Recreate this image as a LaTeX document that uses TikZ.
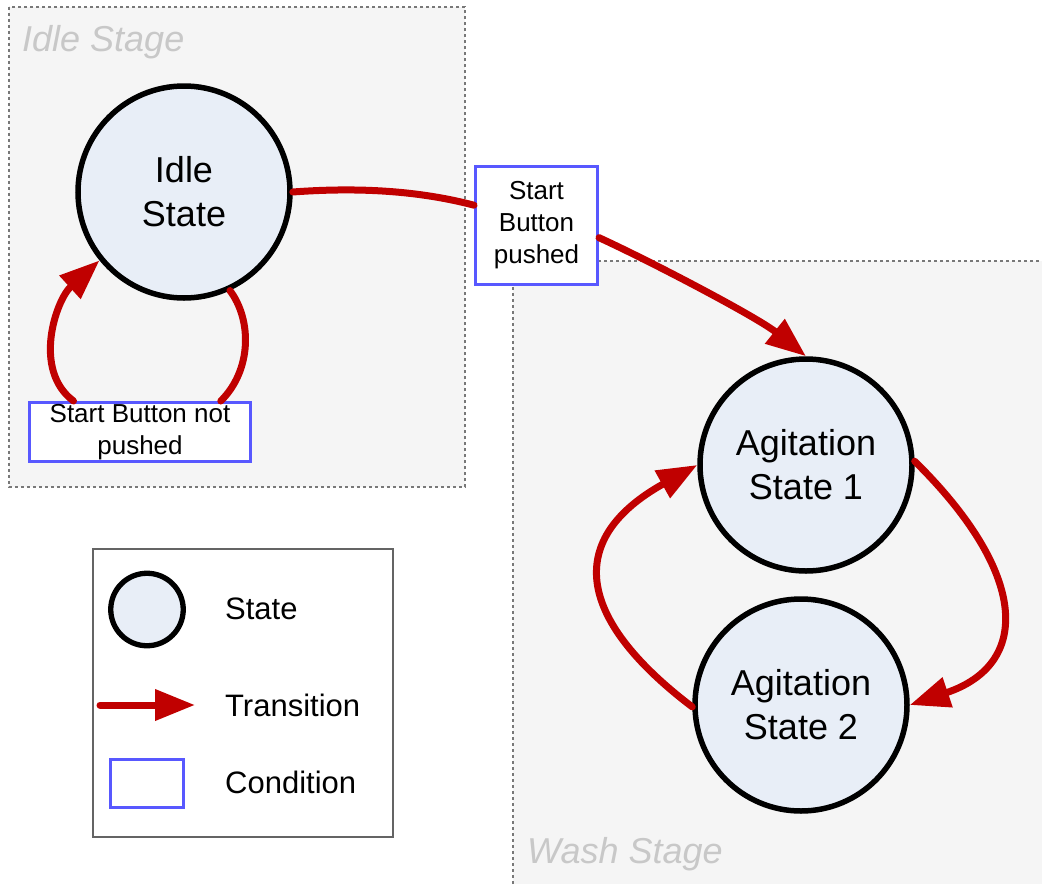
\documentclass[tikz,border=0pt]{standalone}
\usepackage{fontspec}
\setmainfont{Liberation Sans}
\usetikzlibrary{arrows.meta}
\definecolor{stagefill}{RGB}{245,245,245}
\definecolor{stageline}{RGB}{120,120,120}
\definecolor{statefill}{RGB}{232,238,247}
\definecolor{transred}{RGB}{192,0,0}
\definecolor{condblue}{RGB}{88,88,255}
\definecolor{labelgray}{RGB}{200,200,200}
\definecolor{legendline}{RGB}{100,100,100}
\begin{document}
\begin{tikzpicture}[x=1pt,y=-1pt,
  stagedash/.style={draw=stageline, line width=1.3pt, dash pattern=on 3pt off 3pt},
  stagelabel/.style={text=labelgray, inner sep=0pt, anchor=base west, font=\fontsize{36}{43}\selectfont\itshape},
  state/.style={circle, draw=black, line width=5.5pt, fill=statefill, minimum size=212pt, inner sep=0pt, align=center, font=\fontsize{36}{44}\selectfont},
  cond/.style={rectangle, draw=condblue, line width=3pt, fill=white, inner sep=0pt, align=center, font=\fontsize{26}{32}\selectfont},
  trans/.style={draw=transred, line width=7pt, line cap=round},
  arrowend/.style={-{Triangle[length=40pt,width=30pt]}},
  legendtext/.style={anchor=west, inner sep=0pt, font=\fontsize{31}{37}\selectfont}
]
\useasboundingbox (0,0) rectangle (1042,884);
% stages
\fill[stagefill] (9,7) rectangle (465,487);
\draw[stagedash] (9,7) rectangle (465,487);
\fill[stagefill] (513,261) rectangle (1042,884);
\draw[stagedash] (513,884) -- (513,261) -- (1042,261);
\node[stagelabel] (idlestagelabel) at (22,51) {Idle Stage};
\node[stagelabel] (washstagelabel) at (527,863) {Wash Stage};
% states
\node[state] (idle) at (184,192) {Idle\\State};
\node[state] (ag1) at (806,465) {Agitation\\State 1};
\node[state] (ag2) at (801,705) {Agitation\\State 2};
% conditions
\node[cond, minimum width=122pt, minimum height=118pt] (cond1) at (536.5,225.5) {Start\\Button\\pushed};
\node[cond, minimum width=221pt, minimum height=59pt] (cond2) at (140,432) {Start Button not\\pushed};
% transitions
\draw[trans] (idle.east) .. controls (360,187) and (420,191) .. (cond1.162);
\draw[trans,arrowend] (cond1.-11) .. controls (650,261) and (757,317) .. (ag1.north);
\draw[trans] (idle.-65) .. controls (252,320) and (252,370) .. (cond2.21);
\draw[trans,arrowend] (cond2.155) .. controls (32,370) and (56,300) .. (idle.-141);
\draw[trans,arrowend] (ag1.2) .. controls (1028,573) and (1032,664) .. (ag2.east);
\draw[trans,arrowend] (ag2.181) .. controls (574,617) and (566,538) .. (ag1.west);
% legend
\draw[draw=legendline, line width=1.5pt, fill=white] (93,549) rectangle (393,837);
\node[circle, draw=black, line width=5.3pt, fill=statefill, minimum size=72.5pt, inner sep=0pt] (legstate) at (147,609.5) {};
\coordinate (legarrowa) at (100,705);
\coordinate (legarrowb) at (195,705);
\draw[trans,arrowend] (legarrowa) -- (legarrowb);
\node[rectangle, draw=condblue, line width=3pt, fill=white, minimum width=73pt, minimum height=48pt, inner sep=0pt] (legcond) at (147.3,783.3) {};
\node[legendtext] (legstatetext) at (225,609) {State};
\node[legendtext] (legtranstext) at (225,705) {Transition};
\node[legendtext] (legcondtext) at (225,782) {Condition};
\end{tikzpicture}
\end{document}
